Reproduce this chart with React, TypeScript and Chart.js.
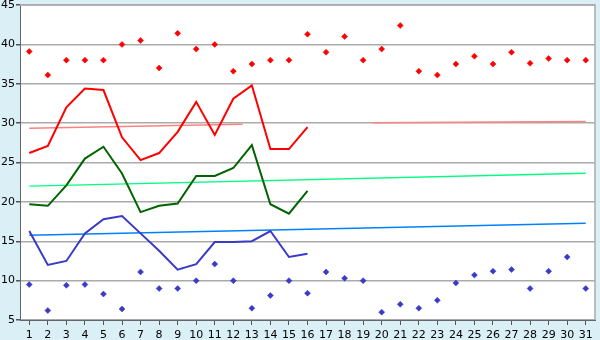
import React, { useEffect, useRef } from 'react';
import { Chart, registerables } from 'chart.js';

Chart.register(...registerables);

const days = ['1','2','3','4','5','6','7','8','9','10','11','12','13','14','15','16','17','18','19','20','21','22','23','24','25','26','27','28','29','30','31'];

const yTicks = [5, 10, 15, 20, 25, 30, 35, 40, 45];

const maxTemp = [26.2, 27.1, 32.0, 34.4, 34.2, 28.2, 25.3, 26.2, 28.9, 32.7, 28.5, 33.1, 34.8, 26.7, 26.7, 29.5];
const avgTemp = [19.7, 19.5, 22.1, 25.5, 27.0, 23.6, 18.7, 19.5, 19.8, 23.3, 23.3, 24.3, 27.2, 19.7, 18.5, 21.4];
const minTemp = [16.3, 12.0, 12.5, 16.0, 17.8, 18.2, 16.0, 13.8, 11.4, 12.1, 14.9, 14.9, 15.0, 16.3, 13.0, 13.4];

const recordHigh = [39.1, 36.1, 38.0, 38.0, 38.0, 40.0, 40.5, 37.0, 41.4, 39.4, 40.0, 36.6, 37.5, 38.0, 38.0, 41.3, 39.0, 41.0, 38.0, 39.4, 42.4, 36.6, 36.1, 37.5, 38.5, 37.5, 39.0, 37.6, 38.2, 38.0, 38.0];
const recordLow = [9.5, 6.2, 9.4, 9.5, 8.3, 6.4, 11.1, 9.0, 9.0, 10.0, 12.1, 10.0, 6.5, 8.1, 10.0, 8.4, 11.1, 10.3, 10.0, 6.0, 7.0, 6.5, 7.5, 9.7, 10.7, 11.2, 11.4, 9.0, 11.2, 13.0, 9.0];

// long-term trend lines (x = day, y = °)
const trendHighA = [{ x: 1, y: 29.35 }, { x: 12.5, y: 29.85 }];
const trendHighB = [{ x: 19.5, y: 30.05 }, { x: 31, y: 30.2 }];
const trendAvg = [{ x: 1, y: 22.0 }, { x: 31, y: 23.65 }];
const trendLow = [{ x: 1, y: 15.75 }, { x: 31, y: 17.3 }];

const bgPlugin = {
  id: 'bgPlugin',
  beforeDraw(chart: any) {
    const { ctx, chartArea } = chart;
    ctx.save();
    ctx.fillStyle = '#daeff6';
    ctx.fillRect(0, 0, chart.width, chart.height);
    ctx.fillStyle = '#ffffff';
    ctx.fillRect(chartArea.left, chartArea.top, chartArea.right - chartArea.left, chartArea.bottom - chartArea.top);
    ctx.restore();
  },
  beforeDatasetsDraw(chart: any) {
    const { ctx, chartArea } = chart;
    ctx.save();
    ctx.strokeStyle = '#aaaaaa';
    ctx.lineWidth = 1.5;
    ctx.beginPath();
    ctx.moveTo(chartArea.left, chartArea.top);
    ctx.lineTo(chartArea.right, chartArea.top);
    ctx.lineTo(chartArea.right, chartArea.bottom);
    ctx.stroke();
    ctx.restore();
  },
};

export default function App() {
  const ref = useRef<HTMLCanvasElement>(null);
  useEffect(() => {
    const font = { family: 'DejaVu Sans', size: 11 };
    const lineDs = (label: string, data: number[], color: string) => ({
      type: 'line' as const,
      label,
      data,
      borderColor: color,
      backgroundColor: color,
      borderWidth: 2,
      pointRadius: 0,
      tension: 0,
      xAxisID: 'x',
    });
    const trendDs = (label: string, data: any[], color: string) => ({
      type: 'line' as const,
      label,
      data,
      borderColor: color,
      backgroundColor: color,
      borderWidth: 1.5,
      pointRadius: 0,
      xAxisID: 'xt',
    });
    const ptDs = (label: string, data: number[], color: string) => ({
      type: 'line' as const,
      label,
      data,
      showLine: false,
      borderColor: color,
      backgroundColor: color,
      pointStyle: 'rectRot',
      pointRadius: 3,
      pointBorderWidth: 0.5,
      xAxisID: 'x',
    });
    const chart = new Chart(ref.current!, {
      type: 'line',
      data: {
        labels: days,
        datasets: [
          ptDs('Record high', recordHigh, '#ff0000'),
          ptDs('Record low', recordLow, '#3a3ac8'),
          lineDs('Max', maxTemp, '#ff0000'),
          lineDs('Avg', avgTemp, '#006400'),
          lineDs('Min', minTemp, '#3a3ac8'),
          trendDs('Trend high A', trendHighA, '#ff8080'),
          trendDs('Trend high B', trendHighB, '#ff8080'),
          trendDs('Trend avg', trendAvg, '#00ff80'),
          trendDs('Trend low', trendLow, '#0080ff'),
        ] as any,
      },
      options: {
        animation: false,
        responsive: false,
        maintainAspectRatio: false,
        layout: { padding: { top: 5, right: 5, left: 0, bottom: 0 } },
        plugins: { legend: { display: false }, tooltip: { enabled: false } },
        scales: {
          x: {
            type: 'category',
            offset: true,
            grid: { drawOnChartArea: false, drawTicks: true, tickLength: 5, tickColor: '#555555', offset: false },
            border: { display: true, color: '#666666', width: 1 },
            ticks: { color: '#000000', font, padding: 4, maxRotation: 0, autoSkip: false },
            afterFit: (s: any) => { s.height = 20; s.paddingLeft = 0; s.paddingRight = 0; },
          },
          xt: {
            type: 'linear',
            display: false,
            min: 0.5,
            max: 31.5,
          },
          y: {
            min: 5,
            max: 45,
            afterBuildTicks: (s: any) => { s.ticks = yTicks.map((v) => ({ value: v })); },
            grid: { color: '#aaaaaa', lineWidth: 1.5, tickLength: 4, tickColor: '#555555' },
            border: { display: true, color: '#666666', width: 1 },
            ticks: { color: '#000000', font, padding: 1 },
            afterFit: (s: any) => { s.width = 20; s.paddingTop = 0; s.paddingBottom = 0; },
          },
        },
      },
      plugins: [bgPlugin],
    });
    return () => chart.destroy();
  }, []);
  return (
    <div style={{ position: 'absolute', left: 0, top: 0, width: 600, height: 340 }}>
      <canvas ref={ref} width={600} height={340} />
    </div>
  );
}
